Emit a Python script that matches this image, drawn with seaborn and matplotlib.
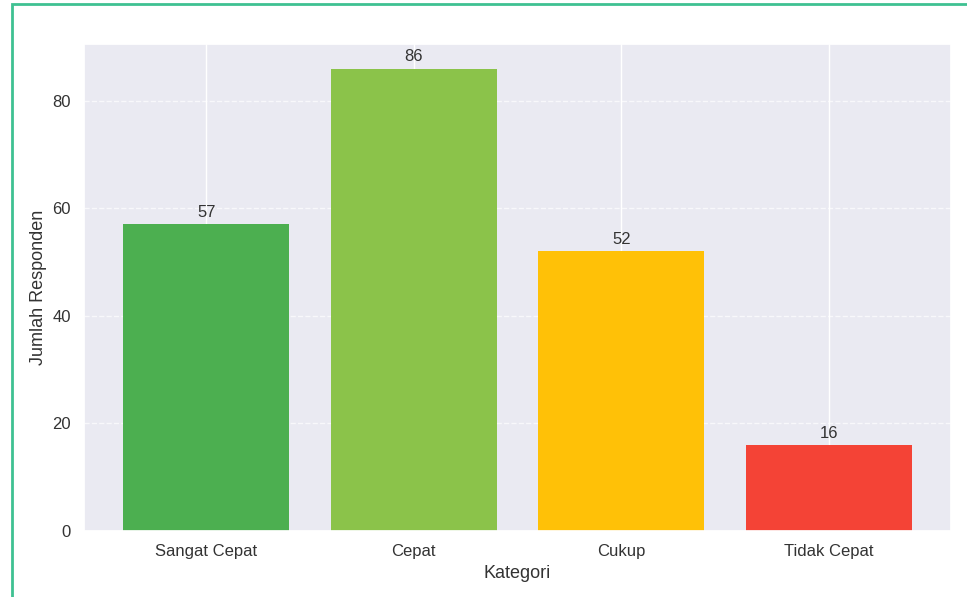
import matplotlib
matplotlib.use("Agg")
import matplotlib.pyplot as plt
import seaborn as sns
import pandas as pd
from matplotlib.patches import Rectangle

# Survey results: perceived service speed
categories = ["Sangat Cepat", "Cepat", "Cukup", "Tidak Cepat"]
responses = [57, 86, 52, 16]
colors = ["#4CAF50", "#8BC34A", "#FFC107", "#F44336"]

sns.set_theme(style="darkgrid")
plt.rcParams["font.family"] = ["Liberation Sans", "DejaVu Sans"]

df = pd.DataFrame({"Kategori": categories, "Jumlah Responden": responses})

fig = plt.figure(figsize=(9.67, 5.97), dpi=100)
ax = fig.add_axes([84 / 967, 1 - 531 / 597, (951 - 84) / 967, (531 - 44) / 597])

sns.barplot(data=df, x="Kategori", y="Jumlah Responden", hue="Kategori",
            palette=colors, saturation=1, width=0.8, linewidth=0,
            legend=False, ax=ax)

for container in ax.containers:
    ax.bar_label(container, padding=3, fontsize=12, color="#333333")

ax.set_xlim(-0.59, len(categories) - 1 + 0.59)
ax.set_ylim(0, max(responses) * 1.053)
ax.grid(axis="y", linestyle="--", color="white", linewidth=1, alpha=0.7)
ax.grid(axis="x", linestyle="-", color="white", linewidth=1)
ax.tick_params(axis="both", labelsize=12, colors="#333333")
ax.set_xlabel("Kategori", fontsize=13, color="#333333")
ax.set_ylabel("Jumlah Responden", fontsize=13, color="#333333")
ax.set_yticks([0, 20, 40, 60, 80])

# frame border along the top and left edges
fig.patches.append(Rectangle((12 / 967, -0.1), 1.2, 1 - 4 / 597 + 0.1,
                             transform=fig.transFigure, fill=False,
                             edgecolor="#3fc192", linewidth=2, zorder=10))

fig.savefig("out.png", dpi=100)
